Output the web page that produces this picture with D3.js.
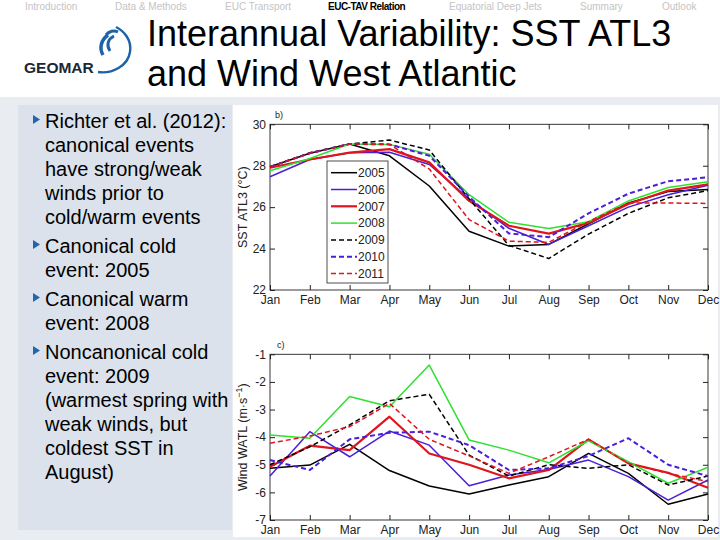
<!DOCTYPE html>
<html><head><meta charset="utf-8">
<script src="https://cdn.jsdelivr.net/npm/d3@7"></script>
<style>body{margin:0;background:#fff}svg{display:block}text{font-family:"Liberation Sans",Arial,Helvetica,sans-serif}</style>
</head><body><svg id="c" width="720" height="540"></svg>
<script>
// ---- data ----
const months = ["Jan","Feb","Mar","Apr","May","Jun","Jul","Aug","Sep","Oct","Nov","Dec"];
const years = ["2005","2006","2007","2008","2009","2010","2011"];
const sstTicks = [22,24,26,28,30];
const windTicks = [-7,-6,-5,-4,-3,-2,-1];
const navItems = ["Introduction","Data & Methods","EUC Transport","EUC-TAV Relation","Equatorial Deep Jets","Summary","Outlook"];
const bullets = [
  ["Richter et al. (2012):","canonical events","have strong/weak","winds prior to","cold/warm events"],
  ["Canonical cold","event: 2005"],
  ["Canonical warm","event: 2008"],
  ["Noncanonical cold","event: 2009","(warmest spring with","weak winds, but","coldest SST in","August)"]
];
const sst2005 = [27.95,28.6,29.05,28.48,27.02,24.84,24.12,24.2,25.2,26.2,26.75,26.85];
const sst2006 = [27.47,28.3,28.63,28.65,28.06,26.4,24.98,24.2,25.1,26.0,26.6,27.06];
const sst2007 = [27.9,28.3,28.63,28.8,28.16,26.3,25.1,24.72,25.24,26.15,26.8,27.1];
const sst2008 = [27.76,28.35,29.05,29.03,28.55,26.6,25.27,24.97,25.3,26.3,26.95,27.23];
const sst2009 = [27.95,28.63,29.05,29.24,28.76,26.4,24.15,23.52,24.7,25.7,26.45,26.8];
const sst2010 = [27.95,28.6,29.05,29.03,28.48,26.5,24.73,24.55,25.7,26.65,27.25,27.44];
const sst2011 = [27.95,28.6,29.05,29.03,27.84,25.4,24.36,24.3,25.3,26.2,26.2,26.18];
const wind2005 = [-5.13,-5.01,-4.26,-5.21,-5.77,-6.06,-5.73,-5.43,-4.59,-5.31,-6.43,-6.06];
const wind2006 = [-5.41,-3.8,-4.71,-3.78,-4.29,-5.76,-5.37,-5.17,-4.83,-5.43,-6.28,-5.55];
const wind2007 = [-5.07,-4.31,-4.47,-3.26,-4.59,-5.0,-5.49,-5.19,-4.08,-4.95,-5.29,-5.83];
const wind2008 = [-3.92,-4.04,-2.53,-2.9,-1.39,-4.1,-4.47,-4.93,-4.13,-4.89,-5.67,-5.09];
const wind2009 = [-5.0,-4.35,-3.56,-2.68,-2.45,-4.65,-5.41,-5.0,-5.13,-5.0,-5.73,-5.41];
const wind2010 = [-4.83,-5.19,-4.08,-3.84,-3.8,-4.29,-5.19,-5.13,-4.68,-4.04,-5.0,-5.41];
const wind2011 = [-4.22,-3.96,-3.62,-2.78,-4.08,-4.68,-5.31,-4.71,-4.08,-4.95,-5.31,-5.61];

const sstSeries = [sst2005,sst2006,sst2007,sst2008,sst2009,sst2010,sst2011];
const windSeries = [wind2005,wind2006,wind2007,wind2008,wind2009,wind2010,wind2011];
const styles = [
  {c:"#000000",w:1.5,d:null},
  {c:"#4a1fd8",w:1.5,d:null},
  {c:"#e0141c",w:2.2,d:null},
  {c:"#2fe02f",w:1.5,d:null},
  {c:"#000000",w:1.5,d:"5,3"},
  {c:"#4a1fd8",w:2,d:"5,3"},
  {c:"#e0141c",w:1.5,d:"5,3"}
];

const svg = d3.select("#c");
// backgrounds
svg.append("rect").attr("x",0).attr("y",0).attr("width",720).attr("height",540).attr("fill","#fff");
svg.append("rect").attr("x",0).attr("y",97).attr("width",720).attr("height",443).attr("fill","#e9edf2");
svg.append("rect").attr("x",18).attr("y",105).attr("width",214).attr("height",425).attr("fill","#dbe2eb");
svg.append("rect").attr("x",233).attr("y",105).attr("width",485).attr("height",432).attr("fill","#fff");

// nav
const navX = [25,115,225,328,449,580,662];
navItems.forEach((t,i)=>{
  svg.append("text").attr("x",navX[i]).attr("y",10).attr("font-size",10)
    .attr("fill", i===3?"#000":"#c4c4c4").attr("font-weight", i===3?"bold":"normal")
    .attr("letter-spacing", i===3?-0.5:0).text(t);
});

// logo
const logo = svg.append("g");
logo.append("text").attr("x",24).attr("y",73).attr("font-size",15.5).attr("font-weight","bold").attr("fill","#1b2736").text("GEOMAR");
logo.append("path").attr("d","M98,72 C112,74 128,66 130,52 C132,40 124,31 116,27").attr("fill","none").attr("stroke","#1d63a8").attr("stroke-width",2.4);
logo.append("path").attr("d","M103,55 C99,48 101,40 108,35").attr("fill","none").attr("stroke","#1d63a8").attr("stroke-width",3.5);
logo.append("path").attr("d","M110,51 C106,45 108,39 114,36").attr("fill","none").attr("stroke","#1d63a8").attr("stroke-width",3);
logo.append("path").attr("d","M106,35 C109,31 114,30 118,32").attr("fill","none").attr("stroke","#1d63a8").attr("stroke-width",3);

// title
svg.append("text").attr("x",147).attr("y",46).attr("font-size",36).attr("fill","#000").text("Interannual Variability: SST ATL3");
svg.append("text").attr("x",147).attr("y",86).attr("font-size",36).attr("fill","#000").text("and Wind West Atlantic");

// bullets
let by = 128;
bullets.forEach((b,bi)=>{
  svg.append("path").attr("d",`M33,${by-13} L40,${by-8.5} L33,${by-4} Z`).attr("fill","#2466ad");
  b.forEach((line,li)=>{
    svg.append("text").attr("x",45).attr("y",by).attr("font-size",20).attr("fill","#000").text(line);
    by += 24;
  });
  by += 5;
});

// charts
const x = d3.scalePoint().domain(months).range([270,708]);
function chart(y, ticks, series, label, lx, ly, title){
  const g = svg.append("g");
  const [y0,y1] = y.range();
  const ax = (sel)=>sel.call(s=>s.select(".domain").remove()).call(s=>s.selectAll("text").attr("font-size",12).attr("fill","#222").attr("font-family","Liberation Sans, Arial, sans-serif")).call(s=>s.selectAll("line").attr("stroke","#222"));
  g.append("g").attr("transform","translate(270,0)").call(d3.axisLeft(y).tickValues(ticks).tickSize(-5).tickPadding(4).tickFormat(d=>String(d))).call(ax);
  g.append("g").attr("transform","translate(708,0)").call(d3.axisRight(y).tickValues(ticks).tickSize(-5).tickFormat("")).call(ax);
  g.append("g").attr("transform",`translate(0,${y0})`).call(d3.axisBottom(x).tickSize(-5).tickPadding(5)).call(ax);
  g.append("g").attr("transform",`translate(0,${y1})`).call(d3.axisTop(x).tickSize(-5).tickFormat("")).call(ax);
  g.append("rect").attr("x",270).attr("y",y1).attr("width",438).attr("height",y0-y1).attr("fill","none").attr("stroke","#222").attr("stroke-width",0.9);
  const line = d3.line().x((d,i)=>x(months[i])).y(d=>y(d));
  series.forEach((s,i)=>{
    const st = styles[i];
    g.append("path").datum(s).attr("d",line).attr("fill","none").attr("stroke",st.c)
      .attr("stroke-width",st.w).attr("stroke-dasharray",st.d).attr("stroke-linejoin","round");
  });
  g.append("text").attr("x",lx).attr("y",ly).attr("font-size",9).attr("fill","#222").text(label);
  const t = g.append("text").attr("transform",`translate(247,${(y0+y1)/2}) rotate(-90)`).attr("text-anchor","middle").attr("font-size",12.5).attr("fill","#222");
  title(t);
}
const ySst = d3.scaleLinear().domain([22,30]).range([290,124.3]);
const yWind = d3.scaleLinear().domain([-7,-1]).range([520,354.3]);
chart(ySst, sstTicks, sstSeries, "b)", 275, 118, t=>t.text("SST ATL3 (°C)"));
chart(yWind, windTicks, windSeries, "c)", 277, 348, t=>{
  t.append("tspan").text("Wind WATL (m·s");
  t.append("tspan").attr("dy",-5).attr("font-size",9).text("−1");
  t.append("tspan").attr("dy",5).text(")");
});

// legend
const lg = svg.append("g");
lg.append("rect").attr("x",327).attr("y",161).attr("width",61).attr("height",122).attr("fill","#fff").attr("stroke","#222").attr("stroke-width",0.8);
years.forEach((yr,i)=>{
  const yy = 172.7 + i*16.8;
  const st = styles[i];
  lg.append("line").attr("x1",331).attr("x2",357).attr("y1",yy).attr("y2",yy).attr("stroke",st.c).attr("stroke-width",st.w).attr("stroke-dasharray",st.d);
  lg.append("text").attr("x",358).attr("y",yy+4.3).attr("font-size",12).attr("fill","#222").text(yr);
});
</script></body></html>
